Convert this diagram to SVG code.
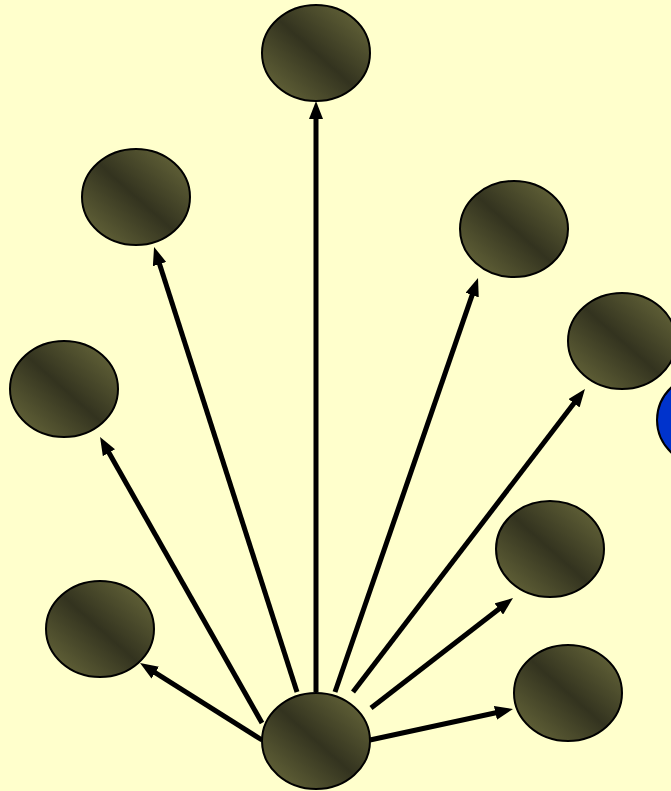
<svg xmlns="http://www.w3.org/2000/svg" width="671" height="791" viewBox="0 0 671 791">
<style>
.node{fill:url(#g);stroke:#000;stroke-width:2}
.blue{fill:#0033cc;stroke:#000;stroke-width:2}
.c{stroke:#000;stroke-width:5;fill:none;marker-end:url(#ah)}
</style>
<defs>
<linearGradient id="g" x1="1" y1="0" x2="0" y2="1">
<stop offset="0" stop-color="#6e6e3e"/>
<stop offset="0.5" stop-color="#33331f"/>
<stop offset="1" stop-color="#6e6e3e"/>
</linearGradient>
<marker id="ah" viewBox="0 0 18 14" refX="10" refY="7" markerWidth="18" markerHeight="14" markerUnits="userSpaceOnUse" orient="auto">
<path d="M0,0 L18,7 L0,14 z" fill="#000"/>
</marker>
</defs>
<rect width="671" height="791" fill="#ffffcc"/>
<g id="connectors">
<line class="c" x1="316" y1="692" x2="316" y2="109"/>
<line class="c" x1="297" y1="692" x2="156.5" y2="254.6"/>
<line class="c" x1="335" y1="692" x2="475.4" y2="285.6"/>
<line class="c" x1="353" y1="692" x2="580.1" y2="395.3"/>
<line class="c" x1="262" y1="723" x2="104" y2="444"/>
<line class="c" x1="371" y1="708" x2="506.7" y2="602.9"/>
<line class="c" x1="262" y1="740" x2="146.8" y2="667.3"/>
<line class="c" x1="370" y1="740" x2="505.2" y2="710.7"/>
</g>
<g id="n-top"><ellipse class="node" cx="316" cy="53" rx="54" ry="48"/></g>
<g id="n-upleft"><ellipse class="node" cx="136" cy="197" rx="54" ry="48"/></g>
<g id="n-upright"><ellipse class="node" cx="514" cy="229" rx="54" ry="48"/></g>
<g id="n-right"><ellipse class="node" cx="622" cy="341" rx="54" ry="48"/></g>
<g id="n-blue"><ellipse class="blue" cx="711" cy="420" rx="54" ry="48"/></g>
<g id="n-left"><ellipse class="node" cx="64" cy="389" rx="54" ry="48"/></g>
<g id="n-lowright"><ellipse class="node" cx="550" cy="549" rx="54" ry="48"/></g>
<g id="n-lowleft"><ellipse class="node" cx="100" cy="629" rx="54" ry="48"/></g>
<g id="n-botright"><ellipse class="node" cx="568" cy="693" rx="54" ry="48"/></g>
<g id="n-source"><ellipse class="node" cx="316" cy="741" rx="54" ry="48"/></g>
</svg>
